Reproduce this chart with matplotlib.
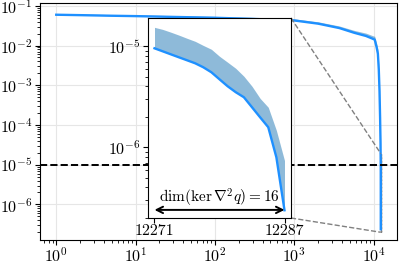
import numpy as np
import matplotlib
matplotlib.use("Agg")
import matplotlib.pyplot as plt
from matplotlib.ticker import FixedLocator, FixedFormatter, NullFormatter
from mpl_toolkits.axes_grid1.inset_locator import mark_inset

plt.rcParams['mathtext.fontset'] = 'cm'
plt.rcParams['font.family'] = 'serif'
plt.rcParams['font.serif'] = ['cmr10', 'DejaVu Serif']
plt.rcParams['axes.formatter.use_mathtext'] = True
plt.rcParams['axes.unicode_minus'] = False
plt.rcParams['font.size'] = 11.5
plt.rcParams['xtick.major.pad'] = 1
plt.rcParams['ytick.major.pad'] = 2

# ---- data ----
head_x = [1, 2, 5, 10, 30, 100, 300, 1000, 2000, 3700, 5700, 8000, 9500,
          10300, 10900, 11300, 11600, 11850, 12050, 12200]
head_y = [0.0596, 0.0582, 0.0562, 0.0550, 0.0525, 0.0500, 0.0468, 0.0427,
          0.0355, 0.0275, 0.0209, 0.0174, 0.0151,
          0.0141, 0.0090, 0.0062, 0.0025, 7.0e-4, 1.5e-4, 3.5e-5]
head_upper = [0.0630, 0.0620, 0.0600, 0.0590, 0.0565, 0.0540, 0.0510, 0.0470,
              0.0395, 0.0310, 0.0240, 0.0205, 0.0180,
              0.0170, 0.0112, 0.0080, 0.0033, 9.5e-4, 2.1e-4, 5.2e-5]

tail_x = list(range(12271, 12288))
tail_y = [9.55e-6, 8.92e-6, 8.33e-6, 7.78e-6, 7.27e-6, 6.79e-6, 6.20e-6,
          5.53e-6, 4.71e-6, 4.02e-6, 3.51e-6, 3.13e-6, 2.49e-6, 1.98e-6,
          1.58e-6, 7.96e-7, 2.38e-7]
tail_upper = [1.54e-5, 1.47e-5, 1.38e-5, 1.29e-5, 1.20e-5, 1.12e-5, 1.02e-5,
              9.34e-6, 7.96e-6, 6.95e-6, 6.05e-6, 5.05e-6, 4.02e-6, 3.05e-6,
              2.49e-6, 1.47e-6, 7.4e-7]

threshold = 1e-5
inset_xticks = [12271, 12287]
kernel_label = r'$\dim(\ker\nabla^2 q) = 16$'

all_x = np.array(head_x + tail_x, dtype=float)
all_y = np.array(head_y + tail_y)
all_up = np.array(head_upper + tail_upper)

line_color = '#1e90ff'
band_color = 'C0'

fig = plt.figure(figsize=(3.99, 2.64), dpi=100)
ax = fig.add_axes([40/399, 24/264, 357/399, 237/264])
ax.fill_between(all_x, all_y, all_up, color=band_color, alpha=0.5, lw=0)
ax.plot(all_x, all_y, color=line_color, lw=1.7)
ax.axhline(threshold, color='black', ls='--', lw=1.4)
ax.set_xscale('log')
ax.set_yscale('log')
ax.grid(True, which='major', color='#e6e6e6', lw=0.8)
ax.set_axisbelow(True)

axins = fig.add_axes([148/399, 46/264, 143/399, 200/264])
axins.fill_between(tail_x, tail_y, tail_upper, color=band_color, alpha=0.5, lw=0)
axins.plot(tail_x, tail_y, color=line_color, lw=1.7)
axins.set_yscale('log')
axins.set_xlim(12270.2, 12287.8)
axins.set_ylim(10**-6.70, 10**-4.72)
axins.xaxis.set_major_locator(FixedLocator(inset_xticks))
axins.xaxis.set_major_formatter(FixedFormatter([str(v) for v in inset_xticks]))
axins.yaxis.set_minor_formatter(NullFormatter())
axins.annotate('', xy=(tail_x[0], 2.4e-7), xytext=(tail_x[-1], 2.4e-7),
               arrowprops=dict(arrowstyle='<->', color='black', lw=1.4,
                               shrinkA=0, shrinkB=0))
axins.text((tail_x[0] + tail_x[-1]) / 2, 3.15e-7, kernel_label,
           ha='center', va='center', fontsize=11)

mark_inset(ax, axins, loc1=1, loc2=4, fc='none', ec='gray', ls='--', lw=1)

fig.savefig('out.png', dpi=100)
